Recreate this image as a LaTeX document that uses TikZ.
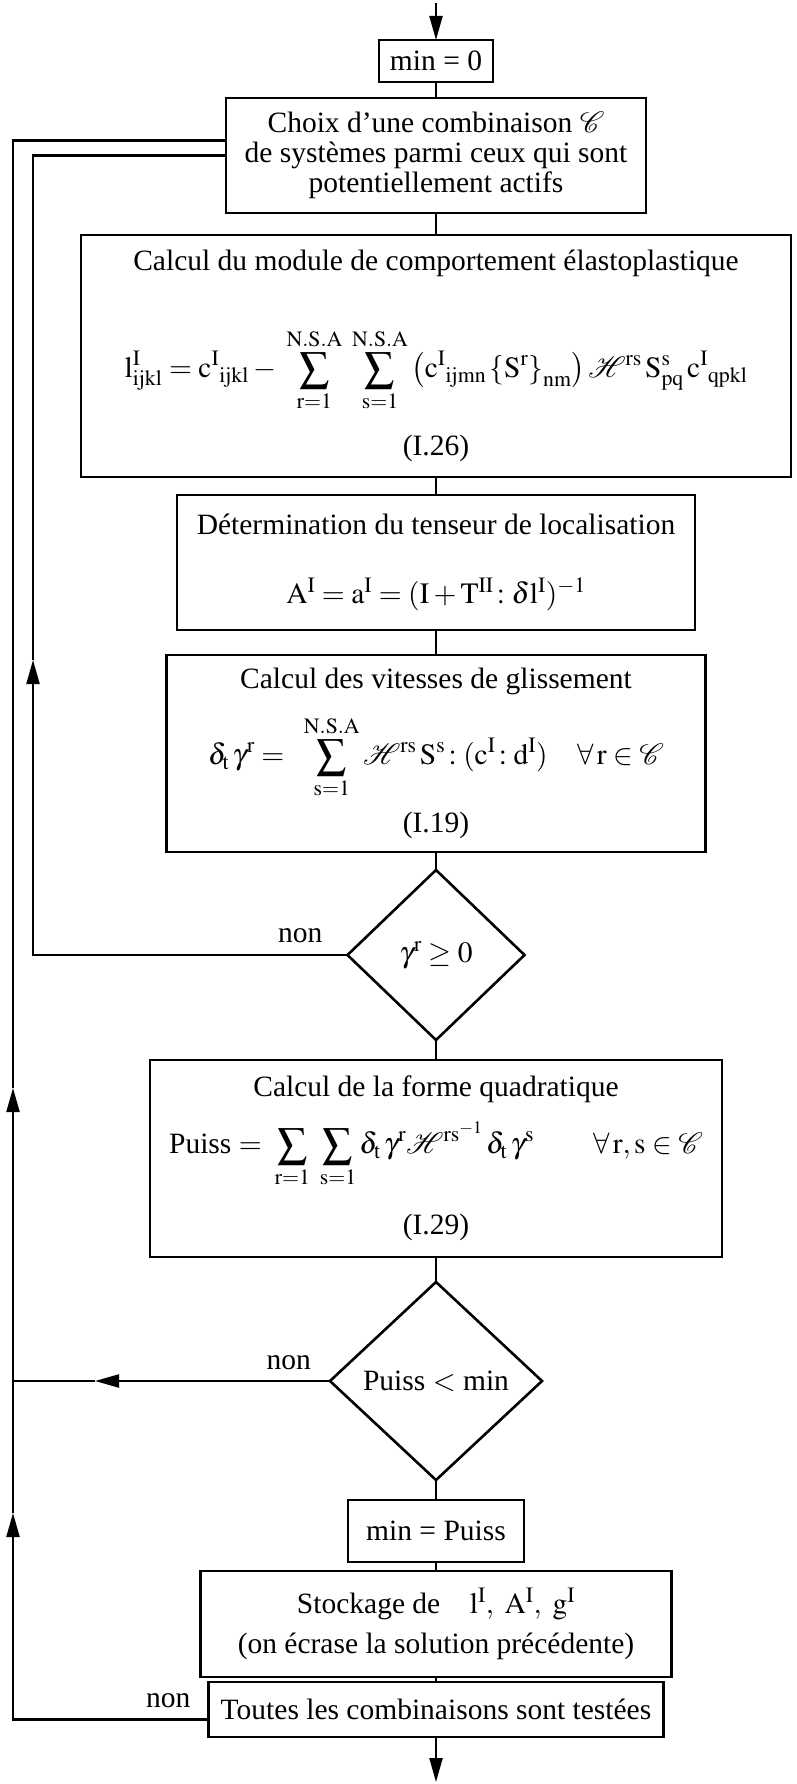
\documentclass[tikz,border=0pt]{standalone}
\usepackage{mathptmx}
\usepackage[no-math]{fontspec}
\setmainfont{Liberation Serif}
\usetikzlibrary{shapes, arrows.meta, positioning, calc, shapes.geometric}

\begin{document}
\begin{tikzpicture}[
    x=1pt, y=-1pt,
    font=\fontsize{29.5}{30}\selectfont,
    block/.style={rectangle, draw, line width=2.6pt, align=center, inner sep=3pt, outer sep=0pt},
    test/.style={diamond, draw, line width=2.6pt, align=center, inner sep=0pt, outer sep=0pt},
    arrow/.style={-{Triangle[length=24pt, width=13pt]}, line width=2.2pt},
    line/.style={line width=2.2pt},
    lbl/.style={inner sep=0pt}
]
\useasboundingbox (0,0) rectangle (797,1784);

% main chain
\node[block, minimum width=114pt, minimum height=42pt] (min0) at (436,61) {min = 0};
\node[block, below=16pt of min0, minimum width=420pt, minimum height=115pt] (choix)
    {Choix d'une combinaison $\mathcal{C}$\\de systèmes parmi ceux qui sont\\potentiellement actifs};
\node[block, below=22pt of choix, minimum width=710pt, minimum height=242pt] (module)
    {Calcul du module de comportement élastoplastique\\[51pt]
     $\displaystyle\mathrm{l^{I}_{ijkl} = c^{I}{}_{ijkl} - \;\sum_{r=1}^{N.S.A}\;\sum_{s=1}^{N.S.A}
      \left(c^{I}{}_{ijmn}\left\{S^{r}\right\}_{nm}\right)\mathcal{H}^{rs}\,S^{s}_{pq}\,c^{I}{}_{qpkl}}$\\[23pt]
     (I.26)};
\node[block, below=18pt of module, minimum width=518pt, minimum height=135pt] (loc)
    {Détermination du tenseur de localisation\\[39pt]
     $\mathrm{A^{I} = a^{I} = (I + T^{II}\!:\delta l^{I})^{-1}}$};
\node[block, below=25pt of loc, minimum width=539pt, minimum height=197pt] (vit)
    {Calcul des vitesses de glissement\\[20pt]
     $\displaystyle\delta_{\mathrm{t}}\,\gamma^{\mathrm{r}} = \;\;\sum_{\mathrm{s=1}}^{\mathrm{N.S.A}}
      \mathcal{H}^{\mathrm{rs}}\,\mathrm{S^{s}\!:(c^{I}\!:d^{I})} \quad \forall\,\mathrm{r}\in\mathcal{C}$\\[13pt]
     (I.19)};
\node[test, below=18pt of vit, minimum width=177pt, minimum height=170pt] (gam)
    {$\gamma^{\mathrm{r}}\geq 0$};
\node[block, below=20pt of gam, minimum width=572pt, minimum height=197pt] (quad)
    {Calcul de la forme quadratique\\[18pt]
     Puiss $=\;\displaystyle\sum_{\mathrm{r=1}}\;\sum_{\mathrm{s=1}}\delta_{\mathrm{t}}\,\gamma^{\mathrm{r}}
      \mathcal{H}^{\mathrm{rs}^{-1}}\,\delta_{\mathrm{t}}\,\gamma^{\mathrm{s}} \qquad \forall\,\mathrm{r,s}\in\mathcal{C}$\\[26pt]
     (I.29)};
\node[test, below=25pt of quad, minimum width=212pt, minimum height=198pt] (pui)
    {Puiss $<$ min};
\node[block, below=20pt of pui, minimum width=176pt, minimum height=62pt] (minp) {min = Puiss};
\node[block, below=9pt of minp, minimum width=471pt, minimum height=106pt] (stock)
    {Stockage de\quad $\mathrm{l^{I},\ A^{I},\ g^{I}}$\\[10pt](on écrase la solution précédente)};
\node[block, below=5pt of stock, minimum width=455pt, minimum height=55pt] (tout)
    {Toutes les combinaisons sont testées};

% labels
\node[lbl, above left=12pt and 25pt of gam.west] (non1) {non};
\node[lbl, above left=11pt and 19pt of pui.west] (non2) {non};
\node[lbl, above left=2pt and 18pt of tout.west] (non3) {non};

% free ends
\coordinate (top) at (436,3);
\coordinate (bot) at (436,1782);
\coordinate (ox) at (13,0);
\coordinate (ix) at (33,0);
\coordinate (oa1) at (13,1513);
\coordinate (oa2) at (13,1088);
\coordinate (ia) at (33,660);
\coordinate (pax) at (95,0);
\coordinate (pa) at (pui.west -| pax);
\coordinate (tw) at ([yshift=-10pt]tout.west);
\coordinate (cw) at ([yshift=15pt]choix.west);

\draw[arrow] (top) -- (min0);
\draw[line] (min0) -- (choix);
\draw[line] (choix) -- (module);
\draw[line] (module) -- (loc);
\draw[line] (loc) -- (vit);
\draw[line] (vit) -- (gam);
\draw[line] (gam) -- (quad);
\draw[line] (quad) -- (pui);
\draw[line] (pui) -- (minp);
\draw[line] (minp) -- (stock);
\draw[line] (stock) -- (tout);
\draw[arrow] (tout) -- (bot);

% loop back: gamma < 0
\draw[arrow] (gam.west) -- (gam.west -| ix) -- (ia);
\draw[line] (ia) -- (choix.west -| ix) -- (choix.west);

% loop back: Puiss >= min and not finished
\draw[arrow] (pui.west) -- (pa);
\draw[line] (pa) -- (pui.west -| ox);
\draw[arrow] (tw) -- (tw -| ox) -- (oa1);
\draw[arrow] (oa1) -- (oa2);
\draw[line] (oa2) -- (cw -| ox) -- (cw);

\end{tikzpicture}
\end{document}
